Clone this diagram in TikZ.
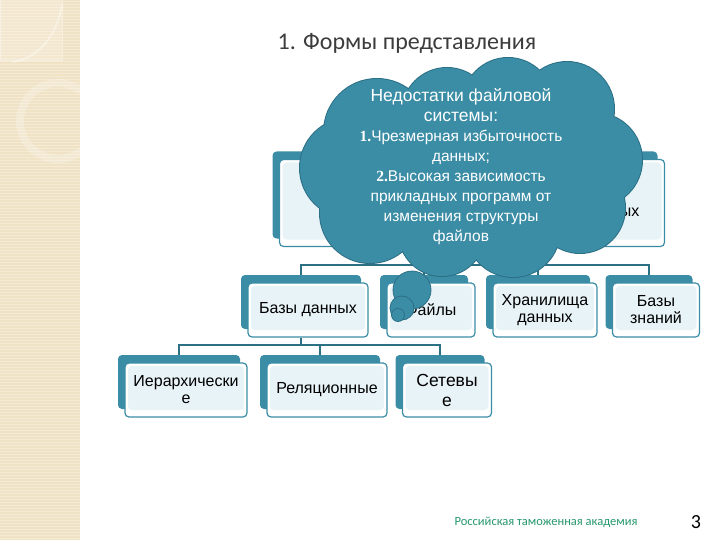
\documentclass[tikz,border=0pt]{standalone}
\usepackage{fontspec}
\setmainfont{Liberation Sans}
\newfontfamily\calfont{Carlito}
\newfontfamily\serfont{Liberation Serif}
\usetikzlibrary{shadows,backgrounds}
\definecolor{tealback}{RGB}{59,141,166}
\definecolor{tealline}{RGB}{44,112,134}
\definecolor{boxfill}{RGB}{232,243,247}
\definecolor{stripbeige}{RGB}{240,226,196}
\definecolor{footgreen}{RGB}{38,150,108}
\definecolor{titlegray}{RGB}{60,60,60}

\begin{document}
\begin{tikzpicture}[x=1pt,y=-1pt,
	box/.style={draw=tealback, line width=1.2pt, fill=white, rounded corners=4pt,
		align=center, font=\fontsize{16}{17}\selectfont, inner sep=2pt,
		general shadow={fill=tealback, shadow xshift=-7pt, shadow yshift=8pt},
		path picture={\fill[boxfill] ([shift={(3pt,-3pt)}]path picture bounding box.north west)
			rectangle ([shift={(-3pt,7pt)}]path picture bounding box.south east);}},
	link/.style={draw=tealline, line width=1.4pt},
	bubble/.style={circle, draw=tealline, fill=tealback, line width=0.8pt, inner sep=0pt}]

	\useasboundingbox (0,0) rectangle (720,540);

	\fill[stripbeige] (0,0) rectangle (80,540);
	\foreach \y in {1.5,4.5,...,540}
		\draw[white, opacity=0.3, line width=0.8pt] (0,\y) -- (80,\y);
	\begin{scope}
		\clip (0,0) rectangle (80,540);
		\draw[white, opacity=0.4, line width=1pt, fill=white, fill opacity=0.2] (0,0) rectangle (62,61);
		\draw[white, opacity=0.35, line width=2pt] (62,5) .. controls (55,45) and (30,60) .. (12,62);
		\draw[white, opacity=0.25, line width=8pt] (58,121) circle (38);
	\end{scope}

	\node[font=\calfont\fontsize{24}{28}\selectfont, text=titlegray] (title) at (407,43) {1. Формы представления};

	\node[box, minimum width=385pt, minimum height=87pt] (top) at (472,203) {};
	\node[anchor=east, font=\fontsize{16}{17}\selectfont] (topend) at (643,212) {ных};

	\node[box, minimum width=120pt, minimum height=54pt] (db) at (308,310) {Базы данных};
	\node[box, minimum width=88pt, minimum height=54pt] (files) at (431,310) {Файлы};
	\node[box, minimum width=104pt, minimum height=54pt] (dw) at (545,310) {Хранилища\\данных};
	\node[box, minimum width=87pt, minimum height=54pt] (kb) at (656,310) {Базы\\знаний};

	\node[box, minimum width=122pt, minimum height=54pt] (hier) at (186,390) {Иерархически\\е};
	\node[box, minimum width=120pt, minimum height=54pt] (rel) at (327,390) {Реляционные};
	\node[box, minimum width=89pt, minimum height=54pt, font=\fontsize{17.5}{20}\selectfont] (net) at (447,390) {Сетевы\\е};

	\begin{scope}[on background layer]
		\coordinate (bus1) at (472,265);
		\coordinate (bus2) at (301,345);
		\draw[link] ([xshift=-7pt]db.north) |- (bus1) -| ([xshift=-7pt]kb.north);
		\draw[link] (top.south) -- (bus1) -| ([xshift=-7pt]files.north);
		\draw[link] (bus1) -| ([xshift=-7pt]dw.north);
		\draw[link] ([xshift=-7pt]db.south) -- (bus2);
		\draw[link] ([xshift=-7pt]hier.north) |- (bus2) -| ([xshift=-7pt]net.north);
		\draw[link] (bus2) -| ([xshift=-7pt]rel.north);
	\end{scope}

	\draw[tealline, line width=2pt] (377,132) circle (53) (447,113) circle (45) (508,103) circle (45)
		(567,109) circle (47) (595,160) circle (47) (580,208) circle (45) (513,230) circle (47)
		(442,233) circle (43) (370,213) circle (50) (350,168) circle (50);
	\fill[tealback] (377,132) circle (53) (447,113) circle (45) (508,103) circle (45)
		(567,109) circle (47) (595,160) circle (47) (580,208) circle (45) (513,230) circle (47)
		(442,233) circle (43) (370,213) circle (50) (350,168) circle (50)
		(470,170) ellipse (130 and 80);

	\node[text=white, align=center, font=\fontsize{15.5}{20}\selectfont] (cloudtext) at (461,167)
		{{\fontsize{17.5}{20}\selectfont Недостатки файловой}\\
		{\fontsize{17.5}{20}\selectfont системы:}\\
		{\serfont\bfseries 1.}Чрезмерная избыточность\\
		данных;\\
		{\serfont\bfseries 2.}Высокая зависимость\\
		прикладных программ от\\
		изменения структуры\\
		файлов};

	\node[bubble, minimum size=38pt] (bub1) at (412,290) {};
	\node[bubble, minimum size=24pt] (bub2) at (402,308) {};
	\node[bubble, minimum size=13pt] (bub3) at (398,315) {};

	\node[font=\calfont\fontsize{12.5}{14}\selectfont, text=footgreen] (foot) at (546,522) {Российская таможенная академия};
	\node[font=\calfont\fontsize{20}{22}\selectfont] (page) at (696,522) {3};

\end{tikzpicture}
\end{document}
